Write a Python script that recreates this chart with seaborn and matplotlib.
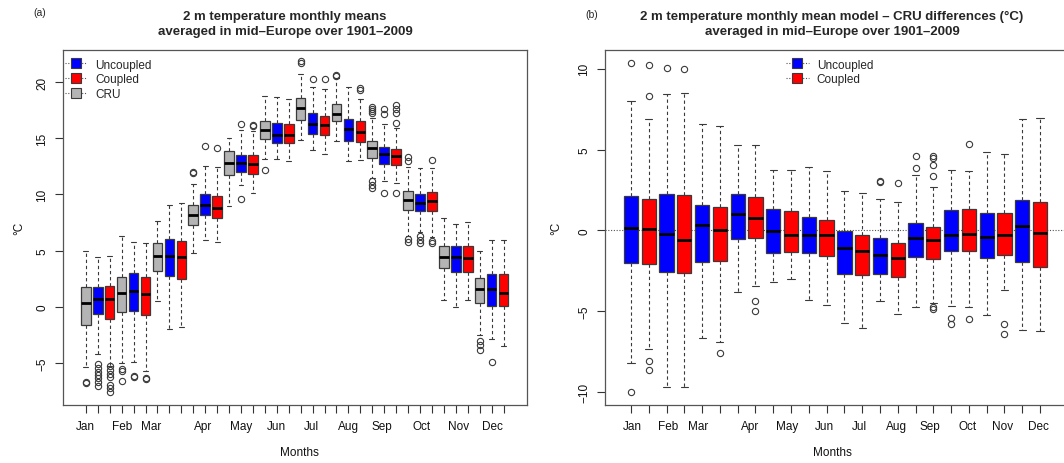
import matplotlib
matplotlib.use("Agg")
import matplotlib.pyplot as plt
from matplotlib.lines import Line2D
import seaborn as sns

months = ["Jan", "Feb", "Mar", "Apr", "May", "Jun", "Jul", "Aug", "Sep", "Oct", "Nov", "Dec"]
series_names = ["Uncoupled", "Coupled", "CRU"]

# ---- Panel (a): monthly means (°C) ----
cru_med = [0.36, 1.25, 4.49, 8.2, 12.83, 15.75, 17.71, 17.15, 14.14, 9.48, 4.46, 1.6]
cru_q1 = [-1.6, -0.5, 3.15, 7.31, 11.76, 14.95, 16.61, 16.52, 13.28, 8.59, 3.42, 0.3]
cru_q3 = [1.73, 2.67, 5.7, 9.06, 13.88, 16.55, 18.57, 18.04, 14.74, 10.29, 5.38, 2.56]
cru_lo = [-5.35, -5.02, 0.48, 4.81, 9.0, 13.16, 14.86, 14.74, 11.44, 6.27, 0.62, -2.55]
cru_hi = [5.0, 6.27, 7.66, 10.91, 15.01, 18.81, 20.71, 20.41, 16.79, 12.42, 7.91, 4.99]
cru_out = [[-6.7, -6.8], [-5.52, -5.7, -6.62], [], [12.0, 11.89], [], [12.18],
           [21.72, 21.85], [20.53, 20.62], [17.8, 17.6, 17.45, 17.3, 11.18, 10.87, 10.58],
           [13.31, 12.99, 6.03, 5.74], [], [-3.08, -3.41, -3.86]]

unc_med = [0.69, 1.40, 4.49, 9.06, 12.78, 15.33, 16.28, 15.86, 13.58, 9.24, 4.4, 1.58]
unc_q1 = [-0.68, -0.41, 2.76, 8.17, 12.03, 14.59, 15.42, 14.8, 12.75, 8.5, 3.12, 0.09]
unc_q3 = [1.76, 3.03, 6.06, 10.02, 13.52, 16.4, 17.24, 16.73, 14.2, 10.07, 5.44, 2.89]
unc_lo = [-4.19, -4.93, -1.96, 5.97, 10.85, 13.16, 13.94, 12.96, 11.18, 6.66, -0.03, -2.91]
unc_hi = [4.4, 5.77, 9.09, 12.51, 15.72, 18.66, 19.61, 19.61, 16.28, 12.33, 7.34, 5.97]
unc_out = [[-5.13, -5.46, -5.79, -6.09, -6.38, -6.74, -7.04], [-6.18, -6.25], [], [14.32],
           [16.25, 9.63], [], [20.27], [], [17.59, 17.15, 10.13], [6.27, 5.97, 5.68], [], [-4.93]]

cpl_med = [0.69, 1.1, 4.4, 8.82, 12.72, 15.3, 16.19, 15.54, 13.43, 9.39, 4.34, 1.25]
cpl_q1 = [-1.07, -0.77, 2.47, 7.93, 11.83, 14.59, 15.3, 14.65, 12.6, 8.5, 3.12, 0.03]
cpl_q3 = [1.81, 2.62, 5.83, 9.89, 13.49, 16.26, 17.0, 16.52, 14.03, 10.19, 5.41, 2.89]
cpl_lo = [-5.26, -5.73, -1.78, 5.79, 10.13, 12.96, 13.61, 13.1, 11.02, 6.21, 0.62, -3.5]
cpl_hi = [4.55, 5.68, 9.24, 12.48, 15.69, 18.48, 19.43, 18.48, 15.95, 12.33, 7.58, 5.97]
cpl_out = [[-5.3, -5.6, -5.97, -6.3, -6.95, -7.27, -7.6], [-6.35, -6.42], [], [14.14],
           [16.22, 16.08], [], [20.32], [19.49, 19.34], [17.98, 17.65, 17.29, 16.4, 10.13],
           [13.05, 5.83, 5.65], [], []]

# ---- Panel (b): model - CRU differences (°C) ----
dunc_med = [0.14, -0.25, 0.33, 1.01, -0.06, -0.27, -1.12, -1.53, -0.46, -0.29, -0.4, 0.27]
dunc_q1 = [-2.05, -2.6, -1.96, -0.54, -1.39, -1.39, -2.71, -2.69, -1.67, -1.3, -1.72, -1.94]
dunc_q3 = [2.14, 2.27, 1.55, 2.27, 1.3, 0.82, -0.04, -0.48, 0.47, 1.24, 1.09, 1.88]
dunc_lo = [-8.24, -9.68, -6.67, -3.82, -3.2, -4.32, -5.74, -4.36, -4.73, -4.67, -5.24, -6.19]
dunc_hi = [7.99, 8.44, 6.6, 5.28, 3.71, 3.9, 2.41, 1.96, 3.4, 3.73, 4.83, 6.89]
dunc_out = [[10.38, -10.01], [10.03], [], [], [], [], [], [3.05, 2.97], [4.58, 3.88],
            [-5.41, -5.8], [], []]

dcpl_med = [0.06, -0.62, 0.0, 0.76, -0.27, -0.31, -1.3, -1.72, -0.6, -0.25, -0.31, -0.15]
dcpl_q1 = [-2.07, -2.64, -1.92, -0.46, -1.32, -1.57, -2.79, -2.87, -1.8, -1.26, -1.51, -2.27]
dcpl_q3 = [1.92, 2.19, 1.44, 2.08, 1.18, 0.64, -0.31, -0.81, 0.22, 1.3, 1.05, 1.75]
dcpl_lo = [-7.35, -9.68, -6.92, -3.45, -2.99, -4.6, -6.03, -5.2, -4.5, -4.73, -3.7, -6.25]
dcpl_hi = [6.87, 8.52, 6.48, 5.26, 3.73, 3.65, 2.29, 1.73, 2.7, 3.67, 4.71, 6.93]
dcpl_out = [[10.24, 8.34, -8.07, -8.67], [9.99], [-7.58], [-4.38, -4.98], [], [], [],
            [2.95], [4.58, 4.5, 4.04, 3.34, -4.75, -4.87], [5.36, -5.47], [-5.82, -6.44], []]

# month label positions along each axis (as in the original layout)
label_pos_a = [1, 4, 6.5, 10.8, 14, 17, 19.9, 23, 25.8, 29.1, 32.2, 35.1]
label_pos_b = [1.1, 3.1, 4.8, 7.7, 9.8, 11.85, 13.85, 15.9, 17.8, 19.9, 21.9, 23.9]

COL_UNC = "#0000FF"
COL_CPL = "#FF0000"
COL_CRU = "#B4B4B4"
EDGE = "#3a3a3a"

sns.set_style("ticks")
plt.rcParams['font.family'] = ['Liberation Sans', 'DejaVu Sans']
plt.rcParams['axes.unicode_minus'] = True

fig = plt.figure(figsize=(10.64, 4.64), dpi=100)
W, H = 1064.0, 464.0
axL = fig.add_axes([62.7 / W, 1 - 405.7 / H, 464 / W, 355 / H])
axR = fig.add_axes([605 / W, 1 - 405.7 / H, 461 / W, 355 / H])


def make_stats(med, q1, q3, lo, hi, out):
    return [dict(med=m, q1=a, q3=b, whislo=l, whishi=h, fliers=o)
            for m, a, b, l, h, o in zip(med, q1, q3, lo, hi, out)]


def draw(ax, stats, positions, color):
    ax.bxp(stats, positions=positions, widths=0.8, capwidths=0.4, patch_artist=True,
           showfliers=True, manage_ticks=False,
           boxprops=dict(facecolor=color, edgecolor=EDGE, linewidth=0.9),
           medianprops=dict(color="black", linewidth=2.0, solid_capstyle="butt"),
           whiskerprops=dict(color=EDGE, linestyle=(0, (3, 2.5)), linewidth=0.8),
           capprops=dict(color=EDGE, linewidth=0.8),
           flierprops=dict(marker="o", markerfacecolor="none", markeredgecolor=EDGE,
                           markersize=4.5, markeredgewidth=0.8, linestyle="none"))


n = len(months)
# Panel (a)
draw(axL, make_stats(cru_med, cru_q1, cru_q3, cru_lo, cru_hi, cru_out),
     [3 * i + 1 for i in range(n)], COL_CRU)
draw(axL, make_stats(unc_med, unc_q1, unc_q3, unc_lo, unc_hi, unc_out),
     [3 * i + 2 for i in range(n)], COL_UNC)
draw(axL, make_stats(cpl_med, cpl_q1, cpl_q3, cpl_lo, cpl_hi, cpl_out),
     [3 * i + 3 for i in range(n)], COL_CPL)
axL.set_xlim(-0.94, 37.94)
axL.set_ylim(-8.73, 22.9)
axL.set_yticks([-5, 0, 5, 10, 15, 20])
axL.set_xticks(range(1, 3 * n + 1))

# Panel (b)
axR.axhline(0, color="#555555", linestyle=(0, (1, 1.5)), linewidth=0.8, zorder=0)
draw(axR, make_stats(dunc_med, dunc_q1, dunc_q3, dunc_lo, dunc_hi, dunc_out),
     [2 * i + 1 for i in range(n)], COL_UNC)
draw(axR, make_stats(dcpl_med, dcpl_q1, dcpl_q3, dcpl_lo, dcpl_hi, dcpl_out),
     [2 * i + 2 for i in range(n)], COL_CPL)
axR.set_xlim(-0.46, 25.46)
axR.set_ylim(-10.8, 11.18)
axR.set_yticks([-10, -5, 0, 5, 10])
axR.set_xticks(range(1, 2 * n + 1))

for ax, lpos in ((axL, label_pos_a), (axR, label_pos_b)):
    ax.xaxis.remove_overlapping_locs = False
    ax.set_xticklabels([])
    ax.set_xticks(lpos, minor=True)
    ax.set_xticklabels(months, minor=True)
    ax.tick_params(axis="x", which="major", length=5.5, width=0.8, color="#333333", direction="out")
    ax.tick_params(axis="x", which="minor", length=0, pad=11, labelsize=8.5, labelcolor="#111111")
    ax.tick_params(axis="y", which="major", length=5.5, width=0.8, color="#333333", pad=5,
                   labelsize=8.5, labelcolor="#111111", direction="out")
    for lab in ax.get_yticklabels():
        lab.set_rotation(90)
        lab.set_va("center")
    for s in ax.spines.values():
        s.set_visible(True)
        s.set_color("#555555")
        s.set_linewidth(0.9)
    ax.grid(False)
    ax.set_xlabel("Months", fontsize=8.5, color="#111111")
    ax.set_ylabel("°C", fontsize=8.5, color="#111111")

axL.xaxis.set_label_coords(0.51, -0.116)
axR.xaxis.set_label_coords(0.493, -0.116)
axL.yaxis.set_label_coords(-0.080, 0.5)
axR.yaxis.set_label_coords(-0.093, 0.5)


def handle(color):
    return Line2D([0], [0], color="#555555", linestyle=(0, (1, 1.5)), linewidth=0.8,
                  marker="s", markersize=6.5, markerfacecolor=color, markeredgecolor=EDGE,
                  markeredgewidth=0.8)


axL.legend([handle(COL_UNC), handle(COL_CPL), handle(COL_CRU)], series_names,
           loc="upper left", bbox_to_anchor=(0.004, 0.975), frameon=False,
           fontsize=8.5, handlelength=1.9, handletextpad=0.7, labelspacing=0.22,
           borderpad=0, borderaxespad=0)
axR.legend([handle(COL_UNC), handle(COL_CPL)], series_names[:2],
           loc="upper left", bbox_to_anchor=(0.393, 0.975), frameon=False,
           fontsize=8.5, handlelength=1.9, handletextpad=0.7, labelspacing=0.22,
           borderpad=0, borderaxespad=0)

fig.text(285 / W, 1 - 24.5 / H,
         "2 m temperature monthly means\naveraged in mid\u2013Europe over 1901\u20132009",
         ha="center", va="center", fontsize=9.5, fontweight="bold", linespacing=1.35)
fig.text(832 / W, 1 - 24.5 / H,
         "2 m temperature monthly mean model \u2013 CRU differences (°C)\naveraged in mid\u2013Europe over 1901\u20132009",
         ha="center", va="center", fontsize=9.5, fontweight="bold", linespacing=1.35)
fig.text(40 / W, 1 - 13 / H, "(a)", ha="center", va="center", fontsize=7.5)
fig.text(592 / W, 1 - 15 / H, "(b)", ha="center", va="center", fontsize=7.5)

fig.savefig("out.png", dpi=100, facecolor="white")
